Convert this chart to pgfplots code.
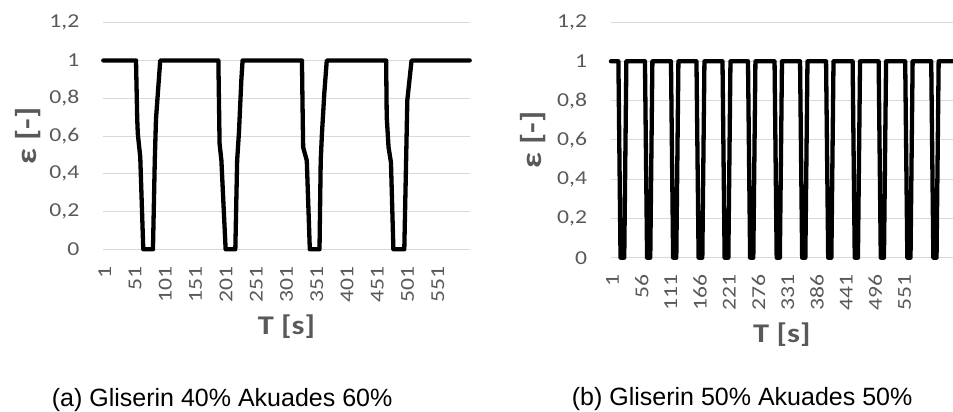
\documentclass[border=0pt]{standalone}
\usepackage{pgfplots}
\pgfplotsset{compat=1.18}
\usepackage{fontspec}
\setmainfont{Carlito}
\newfontfamily\chartfont[FakeStretch=1.2]{Carlito}
\newfontfamily\capfont{Liberation Sans}
\definecolor{labelgray}{HTML}{595959}
\definecolor{gridgray}{HTML}{D9D9D9}
\pgfplotsset{
  excelstyle/.style={
    anchor=south west, scale only axis, clip=false,
    ymin=0, ymax=1.2, ytick={0,0.2,0.4,0.6,0.8,1,1.2},
    ymajorgrids, grid style={color=gridgray, line width=0.9bp},
    axis line style={draw=none}, major tick length=0pt,
    /pgf/number format/assume math mode=true,
    /pgf/number format/use comma,
    tick label style={font=\chartfont\fontsize{19.7bp}{20bp}\selectfont, text=labelgray, inner sep=0pt},
    yticklabel style={anchor=east, xshift=-23.5bp},
    xticklabel style={yshift=-17bp, xshift=1.5bp, rotate=90, anchor=east},
    label style={font=\chartfont\bfseries\fontsize{27bp}{30bp}\selectfont, text=labelgray, inner sep=0pt},
    xlabel style={at={(axis description cs:0.5,0)}, anchor=base, yshift=-85bp},
  }
}
\begin{document}
\begin{tikzpicture}
\useasboundingbox (0,0) rectangle (953bp,412bp);
\begin{axis}[excelstyle,
  at={(103bp,162.7bp)}, width=367bp, height=226.6bp,
  xmin=0.5, xmax=606.5, xtick={1,51,101,151,201,251,301,351,401,451,501,551},
  xlabel={T [s]}, ylabel={ε [-]},
  ylabel style={at={(axis description cs:-0.2044,0.5)}, anchor=center, font=\chartfont\bfseries\fontsize{29bp}{30bp}\selectfont},
]
\addplot[black, line width=4.3bp, line join=round, line cap=round] coordinates {
(1,1) (55,1) (57,0.69) (58,0.61) (62,0.49) (67,0) (83,0) (86,0.47) (88,0.69) (95,1)
(191,1) (193,0.56) (196,0.47) (203,0) (219,0) (222,0.47) (225,0.62) (229,0.9) (231,1)
(329,1) (330,0.76) (331,0.54) (337,0.47) (342,0) (358,0) (360,0.47) (362,0.61) (366,0.83) (370,1)
(468,1) (469,0.7) (472,0.54) (476,0.46) (480,0) (498,0) (501,0.47) (503,0.79) (510,1) (606,1)
};
\end{axis}
\begin{axis}[excelstyle,
  at={(610.7bp,154.3bp)}, width=342.3bp, height=235.7bp,
  xmin=0.5, xmax=645, xtick={1,56,111,166,221,276,331,386,441,496,551},
  xlabel={T [s]}, ylabel={ε [-]},
  ylabel style={at={(axis description cs:-0.227,0.5)}, anchor=center, font=\chartfont\bfseries\fontsize{29bp}{30bp}\selectfont},
]
\addplot[black, line width=4.3bp, line join=round, line cap=round] coordinates {
(1,1)
(15,1) (19,0) (26,0) (30,1)
(65,1) (69,0) (75,0) (79,1)
(114,1) (118,0) (124,0) (128,1)
(162,1) (166,0) (173,0) (177,1)
(211,1) (215,0) (222,0) (226,1)
(259,1) (263,0) (269,0) (273,1)
(309,1) (313,0) (319,0) (323,1)
(357,1) (361,0) (367,0) (371,1)
(406,1) (410,0) (416,0) (420,1)
(456,1) (460,0) (466,0) (470,1)
(505,1) (509,0) (515,0) (519,1)
(555,1) (559,0) (565,0) (569,1)
(604,1) (608,0) (614,0) (618,1)
(645,1)
};
\end{axis}
\node[anchor=base west, inner sep=0pt, font=\capfont\fontsize{25bp}{30bp}\selectfont] at (51.7bp,6bp) {(a) Gliserin 40\% Akuades 60\%};
\node[anchor=base west, inner sep=0pt, font=\capfont\fontsize{25bp}{30bp}\selectfont] at (571.7bp,7bp) {(b) Gliserin 50\% Akuades 50\%};
\end{tikzpicture}
\end{document}
